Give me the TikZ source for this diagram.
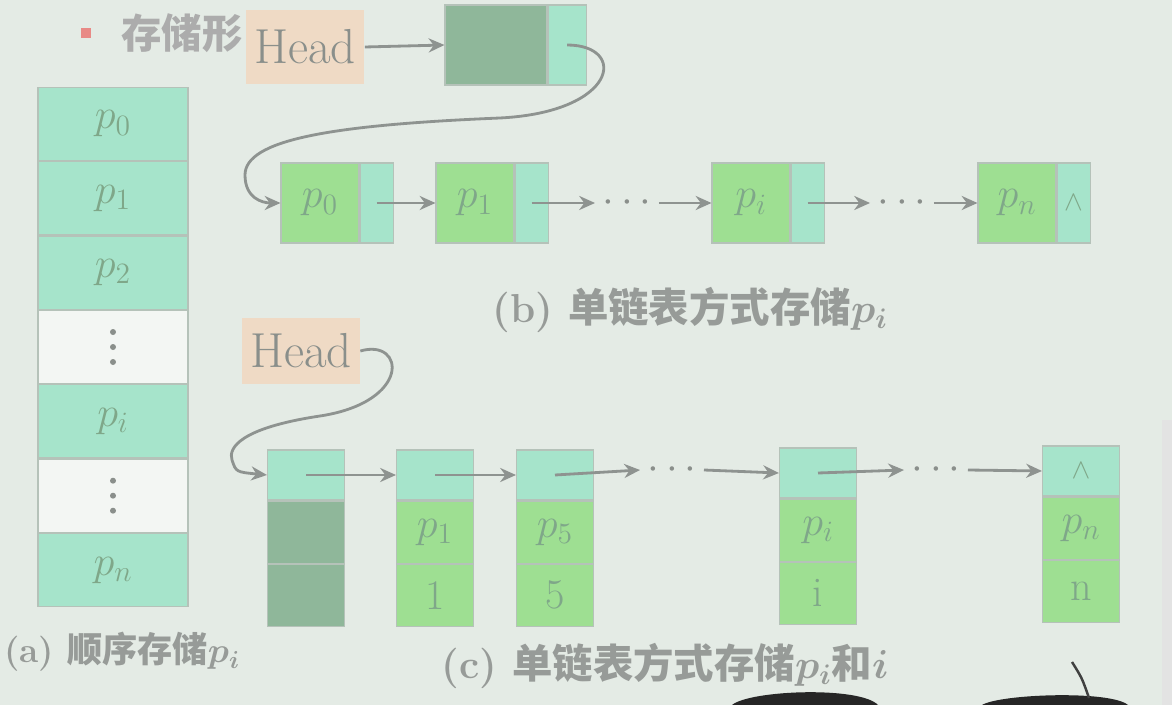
\RequirePackage{fix-cm}
\documentclass[tikz,border=0pt]{standalone}
\usepackage{fontspec}
\newfontfamily\cjk{Noto Sans CJK SC}
\usepackage{tikz}
\usetikzlibrary{positioning,arrows.meta}
\definecolor{bgc}{HTML}{E4EBE5}
\definecolor{tealc}{HTML}{A6E4CB}
\definecolor{greenc}{HTML}{9EDF92}
\definecolor{darkc}{HTML}{8FB79A}
\definecolor{headc}{HTML}{EFDAC5}
\definecolor{linec}{HTML}{B5C2B9}
\definecolor{txtc}{HTML}{8A8F8B}
\definecolor{captc}{HTML}{979B98}
\definecolor{celltxt}{HTML}{7FA789}
\definecolor{arrc}{HTML}{8E9390}
\definecolor{bulc}{HTML}{E88A86}

\tikzset{
  cell/.style={draw=linec, line width=0.6pt, inner sep=0pt, text=celltxt, font=\fontsize{24}{26}\selectfont},
  seq/.style={cell, fill=tealc, minimum width=3cm, minimum height=1.466cm},
  seqgap/.style={seq, fill=white!55!bgc, text=txtc},
  dat/.style={cell, fill=greenc, minimum width=1.56cm, minimum height=1.6cm},
  ptr/.style={cell, fill=tealc, minimum width=0.66cm, minimum height=1.6cm},
  ptrtop/.style={cell, fill=tealc, minimum width=1.54cm, minimum height=1cm},
  datlow/.style={cell, fill=greenc, minimum width=1.54cm, minimum height=1.24cm},
  headbox/.style={fill=headc, text=txtc, minimum width=2.38cm, minimum height=1.5cm, font=\fontsize{28}{30}\selectfont},
  link/.style={draw=arrc, line width=1.6pt, -{Stealth[length=9pt,width=8pt]}},
  dotsnode/.style={text=txtc, inner sep=4pt, font=\fontsize{24}{26}\selectfont},
  capt/.style={text=captc, font=\fontsize{23}{25}\selectfont\bfseries\boldmath},
}

\begin{document}
\begin{tikzpicture}[x=0.02cm, y=-0.02cm]
   % background
   \fill[bgc] (0,0) rectangle (1172,705);
   \useasboundingbox (0,0) rectangle (1172,705);
   \fill[gray!22] (1162,420) rectangle (1172,705);

   % title line
   \node[fill=bulc, minimum size=0.2cm, inner sep=0pt] (bul) at (86,33) {};
   \node[anchor=west, text=gray!65, font=\fontsize{23}{25}\selectfont\bfseries] (ttl) at (115,33) {\cjk 存储形};

   % (a) sequential storage
   \node[seq] (a0) at (113,124) {$p_0$};
   \node[seq, below=0pt of a0] (a1) {$p_1$};
   \node[seq, below=0pt of a1] (a2) {$p_2$};
   \node[seqgap, below=0pt of a2] (a3) {};
   \node[seq, below=0pt of a3] (a4) {$p_i$};
   \node[seqgap, below=0pt of a4] (a5) {};
   \node[seq, below=0pt of a5] (a6) {$p_n$};
   \foreach \g in {a3,a5}
     \foreach \k in {-1,0,1}
       \fill[txtc] ([yshift=\k*0.3cm]\g.center) circle (3);
   \node[capt, font=\fontsize{20}{22}\selectfont\bfseries\boldmath] (capa) at (122,652) {(a) {\cjk 顺序存储}$p_i$};

   % (b) singly linked list
   \node[headbox] (hb) at (305,47) {Head};
   \node[cell, fill=darkc, minimum width=2.04cm, minimum height=1.6cm] (hdr) at (496,45) {};
   \node[ptr, right=0pt of hdr, minimum width=0.76cm] (hdrp) {};

   \node[dat] (b0) at (320,203) {$p_0$};
   \node[ptr, right=0pt of b0] (b0p) {};
   \node[dat] (b1) at (475,203) {$p_1$};
   \node[ptr, right=0pt of b1] (b1p) {};
   \node[dotsnode] (bd1) at (627,203) {$\cdots$};
   \node[dat] (bi) at (751,203) {$p_i$};
   \node[ptr, right=0pt of bi] (bip) {};
   \node[dotsnode] (bd2) at (902,203) {$\cdots$};
   \node[dat] (bn) at (1017,203) {$p_n$};
   \node[ptr, right=0pt of bn, font=\fontsize{16}{18}\selectfont] (bnp) {$\wedge$};

   \draw[link] (hb.east) -- (hdr.west);
   \draw[link] (hdrp.center) .. controls (628,45) and (618,112) .. (500,118)
      .. controls (330,125) and (245,140) .. (245,175)
      .. controls (245,198) and (262,203) .. (b0.west);
   \draw[link] (b0p.center) -- (b1.west);
   \draw[link] (b1p.center) -- (bd1.west);
   \draw[link] (bd1.east) -- (bi.west);
   \draw[link] (bip.center) -- (bd2.west);
   \draw[link] (bd2.east) -- (bn.west);

   \node[capt] (capb) at (690,310) {(b) {\cjk 单链表方式存储}$p_i$};

   % (c) linked list storing p_i and i
   \node[headbox, minimum width=2.36cm, minimum height=1.34cm] (hc) at (301,351) {Head};

   \node[ptrtop] (c0p) at (306,475) {};
   \node[datlow, fill=darkc, below=0pt of c0p] (c0) {};
   \node[datlow, fill=darkc, below=0pt of c0] (c0x) {};
   \node[ptrtop] (c1p) at (435,475) {};
   \node[datlow, below=0pt of c1p] (c1) {$p_1$};
   \node[datlow, below=0pt of c1] (c1x) {1};
   \node[ptrtop] (c2p) at (555,475) {};
   \node[datlow, below=0pt of c2p] (c2) {$p_5$};
   \node[datlow, below=0pt of c2] (c2x) {5};
   \node[dotsnode] (cd1) at (672,470) {$\cdots$};
   \node[ptrtop] (cip) at (818,473) {};
   \node[datlow, below=0pt of cip] (ci) {$p_i$};
   \node[datlow, below=0pt of ci] (cix) {i};
   \node[dotsnode] (cd2) at (936,470) {$\cdots$};
   \node[ptrtop, font=\fontsize{16}{18}\selectfont] (cnp) at (1081,471) {$\wedge$};
   \node[datlow, below=0pt of cnp] (cn) {$p_n$};
   \node[datlow, below=0pt of cn] (cnx) {n};

   \draw[link] (hc.east) .. controls (405,338) and (412,402) .. (320,416)
      .. controls (240,428) and (228,448) .. (232,460)
      .. controls (236,472) .. (c0p.west);
   \draw[link] (c0p.center) -- (c1p.west);
   \draw[link] (c1p.center) -- (c2p.west);
   \draw[link] (c2p.center) -- (cd1.west);
   \draw[link] (cd1.east) -- (cip.west);
   \draw[link] (cip.center) -- (cd2.west);
   \draw[link] (cd2.east) -- (cnp.west);

   \node[capt] (capc) at (665,666) {(c) {\cjk 单链表方式存储}$p_i${\cjk 和}$i$};

   % heads in the foreground
   \fill[black!85] (732,705) .. controls (750,690) and (860,686) .. (878,705) -- cycle;
   \fill[black!85] (982,705) .. controls (1000,694) and (1110,690) .. (1128,705) -- cycle;
   \draw[black!75, line width=1.4pt] (1072,662) .. controls (1082,678) .. (1089,698);
\end{tikzpicture}
\end{document}
